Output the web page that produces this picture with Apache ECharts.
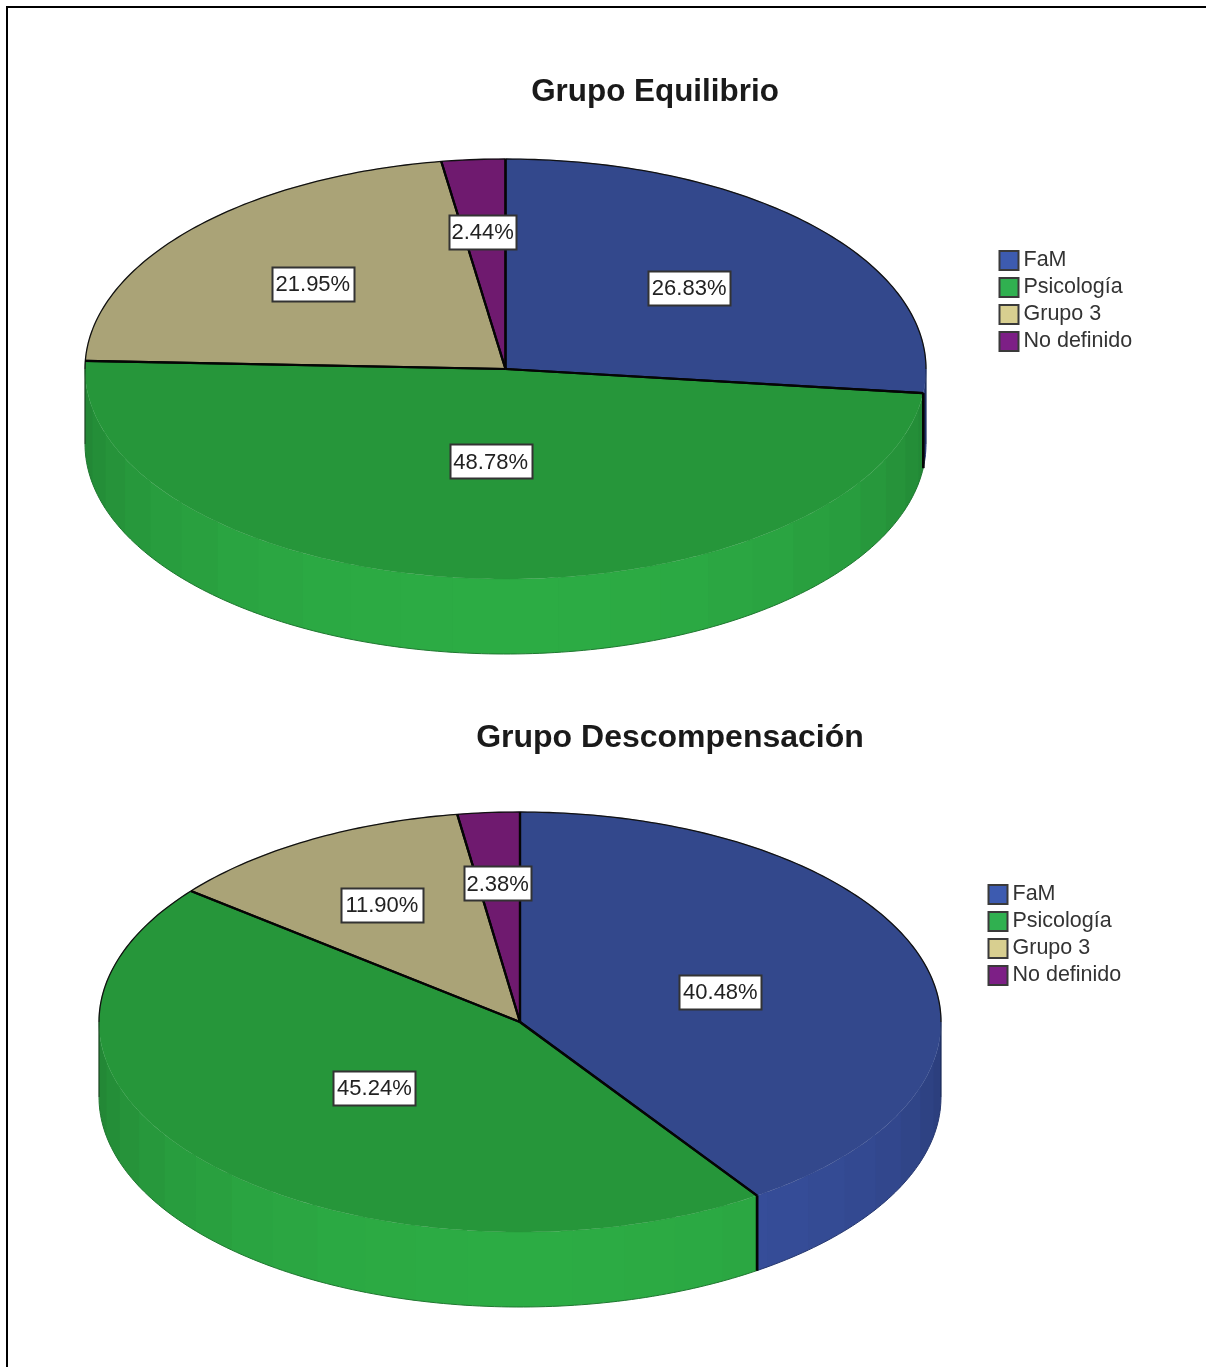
<!DOCTYPE html>
<html>
<head>
<meta charset="utf-8">
<title>Grupo Equilibrio / Grupo Descompensación</title>
<style>
  html, body { margin: 0; padding: 0; background: #fff; }
  #chart { width: 1206px; height: 1367px; }
</style>
<script src="https://cdn.jsdelivr.net/npm/echarts@6/dist/echarts.min.js"></script>
</head>
<body>
<div id="chart"></div>
<script>
// Share of each group, first value Grupo Equilibrio, second Grupo Descompensación.
const categories = ['FaM', 'Psicología', 'Grupo 3', 'No definido'];
const fam = [26.83, 40.48];
const psicologia = [48.78, 45.24];
const grupo3 = [21.95, 11.90];
const noDefinido = [2.44, 2.38];
const titles = ['Grupo Equilibrio', 'Grupo Descompensación'];

const values = [fam, psicologia, grupo3, noDefinido];

// Tilted-disc layout of the two pies.
const pies = [
  { cx: 505.5, cy: 369, rx: 420.5, ry: 210, depth: 75 },
  { cx: 520, cy: 1022, rx: 421, ry: 210, depth: 75 }
];
const faceColors = ['#33488c', '#26963a', '#aaa377', '#6f1a6f'];
const wallColors = ['#38509f', '#2cac44', '#b8b084', '#7a1f7a'];
const swatchColors = ['#3d5bb0', '#30b050', '#d8cf90', '#7d1f86'];

// Pixel adjustment of each value tag from its default spot on the slice.
const tagNudges = [
  [[0, 1], [4, -30], [-9, -3], [-4, -15]],
  [[-35, 6], [35, -18], [-15, -11], [-4, -16]]
];

const RAD = Math.PI / 180;
const BAND = 7.2;

function sliceRange(cat, pie) {
  const total = values.reduce((s, v) => s + v[pie], 0);
  let before = 0;
  for (let i = 0; i < cat; i++) before += values[i][pie];
  return [before / total * 360, (before + values[cat][pie]) / total * 360];
}
function rimPoint(g, deg, drop) {
  return [g.cx + g.rx * Math.sin(deg * RAD), g.cy + drop - g.ry * Math.cos(deg * RAD)];
}
function arc(g, a0, a1, drop) {
  const pts = [];
  const n = Math.max(1, Math.ceil(Math.abs(a1 - a0)));
  for (let i = 0; i <= n; i++) pts.push(rimPoint(g, a0 + (a1 - a0) * i / n, drop));
  return pts;
}
function shade(hex, f) {
  const n = parseInt(hex.slice(1), 16);
  const c = [(n >> 16) & 255, (n >> 8) & 255, n & 255].map(v => Math.round(v * f));
  return 'rgb(' + c.join(',') + ')';
}
function wallLight(mid) {
  return 0.74 + 0.26 * Math.pow(Math.max(0, Math.sin((mid - 90) * RAD)), 0.8);
}
function stroke(points, color, width, z2) {
  return {
    type: 'polyline', z2: z2, silent: true,
    shape: { points: points },
    style: { stroke: color, lineWidth: width, fill: null }
  };
}

function renderSlice(params, api) {
  const pie = api.value(0);
  const cat = params.seriesIndex;
  const g = pies[pie];
  const [a0, a1] = sliceRange(cat, pie);
  const kids = [];

  // Front wall, drawn as narrow facets so the shading steps around the rim.
  // Each facet runs slightly under the next one to avoid hairline seams.
  const from = Math.max(a0, 90), to = Math.min(a1, 270);
  if (to > from) {
    let s = from;
    while (s < to) {
      const e = Math.min(to, (Math.floor(s / BAND + 1e-6) + 1) * BAND);
      const over = Math.min(to, e + 0.8);
      kids.push({
        type: 'polygon', z2: 1, silent: true,
        shape: { points: arc(g, s, over, 0).concat(arc(g, over, s, g.depth)) },
        style: { fill: shade(wallColors[cat], wallLight((s + e) / 2)) }
      });
      s = e;
    }
    kids.push(stroke(arc(g, from, to, g.depth), shade(wallColors[cat], 0.7), 1, 2));
  }
  [a0, a1].forEach(a => {
    const n = ((a % 360) + 360) % 360;
    if (n > 90 && n < 270) {
      kids.push(stroke([rimPoint(g, n, 0), rimPoint(g, n, g.depth)], '#050505', 2.4, 6));
    }
  });
  if (a0 <= 270 && a1 >= 270) {
    kids.push(stroke([rimPoint(g, 270, 0), rimPoint(g, 270, g.depth)], '#14401c', 1.2, 6));
  }
  if (a0 <= 90 && a1 >= 90 && to > from) {
    kids.push(stroke([rimPoint(g, 90, 0), rimPoint(g, 90, g.depth)], '#1a2a58', 1.2, 6));
  }

  // Top face.
  kids.push({
    type: 'polygon', z2: 4, silent: true,
    shape: { points: [[g.cx, g.cy]].concat(arc(g, a0, a1, 0)) },
    style: { fill: faceColors[cat], stroke: faceColors[cat], lineWidth: 0.5 }
  });

  // Back rim, outlined only where it faces away from the viewer.
  if (a0 < 90) kids.push(stroke(arc(g, a0, Math.min(a1, 90), 0), '#111', 1.3, 7));
  if (a1 > 270) kids.push(stroke(arc(g, Math.max(a0, 270), a1, 0), '#111', 1.3, 7));

  // Radial edges of the slice.
  kids.push(stroke([[g.cx, g.cy], rimPoint(g, a0, 0)], '#050505', 2.2, 8));
  kids.push(stroke([[g.cx, g.cy], rimPoint(g, a1, 0)], '#050505', 2.2, 8));

  // Value tag.
  const mid = (a0 + a1) / 2;
  const nudge = tagNudges[pie][cat];
  const tx = g.cx + 0.585 * g.rx * Math.sin(mid * RAD) + nudge[0];
  const ty = g.cy - 0.585 * g.ry * Math.cos(mid * RAD) + nudge[1];
  const text = api.value(1).toFixed(2) + '%';
  const w = text.length === 5 ? 67 : 82;
  kids.push({
    type: 'rect', z2: 20, silent: true,
    shape: { x: Math.round(tx - w / 2) + 0.5, y: Math.round(ty - 17) + 0.5, width: w, height: 34 },
    style: { fill: '#fff', stroke: '#333', lineWidth: 2 }
  });
  kids.push({
    type: 'text', z2: 21, silent: true,
    style: {
      x: tx, y: ty + 1, text: text, fill: '#222',
      font: '22px "Liberation Sans"', align: 'center', verticalAlign: 'middle'
    }
  });
  return { type: 'group', children: kids };
}

const legendItems = categories.map((name, i) => ({
  name: name,
  icon: 'rect',
  itemStyle: { color: swatchColors[i], borderColor: '#3a3a3a', borderWidth: 2 }
}));
function legendAt(left, top) {
  return {
    orient: 'vertical', left: left, top: top, padding: 0,
    itemWidth: 19, itemHeight: 19, itemGap: 5, selectedMode: false,
    textStyle: { fontFamily: 'Liberation Sans', fontSize: 21.5, color: '#333' },
    data: legendItems
  };
}
function titleAt(text, x, y, size) {
  return {
    text: text, left: x, top: y, padding: 0, textAlign: 'center', textVerticalAlign: 'middle',
    textStyle: { fontFamily: 'Liberation Sans', fontWeight: 'bold', fontSize: size, color: '#1a1a1a' }
  };
}

const chart = echarts.init(document.getElementById('chart'), null, { renderer: 'canvas' });
chart.setOption({
  backgroundColor: '#fff',
  animation: false,
  tooltip: { show: false },
  title: [titleAt(titles[0], 655, 92, 31.4), titleAt(titles[1], 670, 738, 32)],
  legend: [legendAt(998.5, 249.5), legendAt(987.5, 883.5)],
  graphic: [
    { type: 'rect', shape: { x: 6, y: 6, width: 1200, height: 2 }, style: { fill: '#000' }, silent: true },
    { type: 'rect', shape: { x: 6, y: 6, width: 2, height: 1361 }, style: { fill: '#000' }, silent: true }
  ],
  series: categories.map((name, i) => ({
    type: 'custom',
    name: name,
    coordinateSystem: 'none',
    silent: true,
    itemStyle: { color: swatchColors[i] },
    encode: { value: 1 },
    renderItem: renderSlice,
    data: values[i].map((v, pie) => [pie, v])
  }))
});
</script>
</body>
</html>
